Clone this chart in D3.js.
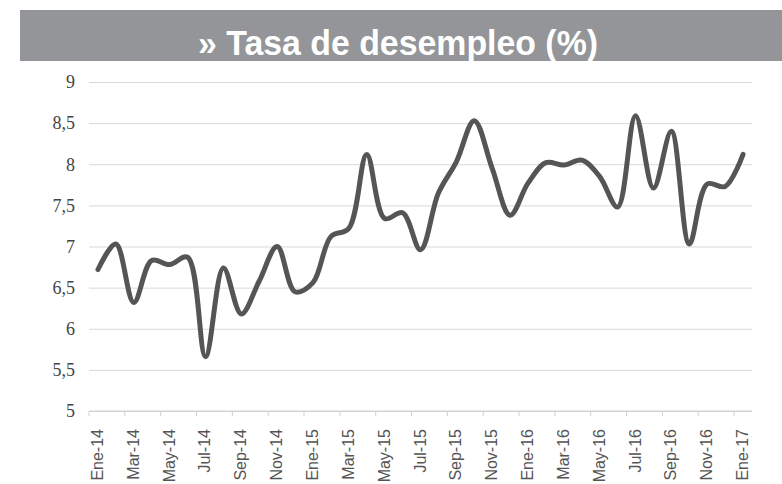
<!DOCTYPE html>
<html>
<head>
<meta charset="utf-8">
<script src="https://cdn.jsdelivr.net/npm/d3@7"></script>
<style>
  body { margin: 0; background: #fff; }
  svg { display: block; }
</style>
</head>
<body>
<svg id="chart"></svg>
<script>
// meses (etiquetas de categoría)
var months = ["Ene-14","Feb-14","Mar-14","Abr-14","May-14","Jun-14","Jul-14","Ago-14","Sep-14","Oct-14","Nov-14","Dic-14",
              "Ene-15","Feb-15","Mar-15","Abr-15","May-15","Jun-15","Jul-15","Ago-15","Sep-15","Oct-15","Nov-15","Dic-15",
              "Ene-16","Feb-16","Mar-16","Abr-16","May-16","Jun-16","Jul-16","Ago-16","Sep-16","Oct-16","Nov-16","Dic-16",
              "Ene-17"];

// tasa de desempleo (%)
var rate = [6.72, 7.03, 6.32, 6.83, 6.78, 6.87, 5.66, 6.74, 6.18, 6.58, 7.00, 6.45,
            6.56, 7.12, 7.22, 8.12, 7.34, 7.41, 6.96, 7.65, 8.03, 8.53, 7.95, 7.38,
            7.77, 8.02, 7.99, 8.05, 7.85, 7.48, 8.59, 7.71, 8.40, 7.03, 7.76, 7.73,
            8.12];

var yTicks = [5, 5.5, 6, 6.5, 7, 7.5, 8, 8.5, 9];
var title = "\u00BB Tasa de desempleo (%)";

/*
	Container
 */
var container = { width: 782, height: 484 };
var plot = { left: 89, right: 752, top: 82, bottom: 411 };

var svg = d3.select('#chart')
	.attr('width', container.width)
	.attr('height', container.height);

/*
	Title bar
 */
svg.append('rect')
	.attr('x', 20).attr('y', 10)
	.attr('width', container.width - 20).attr('height', 51)
	.attr('fill', '#939598');

svg.append('text')
	.attr('x', 398).attr('y', 55)
	.attr('text-anchor', 'middle')
	.attr('fill', '#fff')
	.attr('font-family', 'Liberation Sans, Arial, sans-serif')
	.attr('font-weight', 'bold')
	.attr('font-size', 35)
	.attr('textLength', 400)
	.attr('lengthAdjust', 'spacingAndGlyphs')
	.text(title);

/*
	Scales
 */
var x = d3.scaleBand().domain(months).range([plot.left, plot.right]);
var y = d3.scaleLinear().domain([5, 9]).range([plot.bottom, plot.top]);

/*
	Y axis + gridlines
 */
var yAxis = d3.axisLeft(y)
	.tickValues(yTicks)
	.tickSize(-(plot.right - plot.left))
	.tickPadding(14)
	.tickFormat(function(d){ return String(d).replace('.', ','); });

var gy = svg.append('g')
	.attr('transform', 'translate(' + plot.left + ',0)')
	.call(yAxis);
gy.select('.domain').remove();
gy.selectAll('.tick line').attr('stroke', '#d9d9d9').attr('stroke-width', 1);
gy.selectAll('.tick text')
	.attr('fill', '#444')
	.attr('font-family', 'Liberation Serif, Cambria, serif')
	.attr('font-size', 18);

/*
	X axis
 */
svg.append('line')
	.attr('x1', plot.left).attr('x2', plot.right)
	.attr('y1', plot.bottom).attr('y2', plot.bottom)
	.attr('stroke', '#d0d0d0');

var labelled = months.filter(function(m, i){ return i % 2 === 0; });

svg.append('g').selectAll('line')
	.data(labelled)
	.enter().append('line')
	.attr('x1', function(d){ return x(d); })
	.attr('x2', function(d){ return x(d); })
	.attr('y1', plot.bottom).attr('y2', plot.bottom + 5)
	.attr('stroke', '#d0d0d0');

svg.append('g').selectAll('text')
	.data(labelled)
	.enter().append('text')
	.attr('transform', function(d){
		return 'translate(' + (x(d) + x.bandwidth() / 2 + 5) + ',' + (plot.bottom + 18) + ') rotate(-90)';
	})
	.attr('text-anchor', 'end')
	.attr('fill', '#555')
	.attr('font-family', 'Liberation Sans, Arial, sans-serif')
	.attr('font-size', 16)
	.text(function(d){ return d; });

/*
	Line
 */
var line = d3.line()
	.x(function(d, i){ return x(months[i]) + x.bandwidth() / 2; })
	.y(function(d){ return y(d); })
	.curve(d3.curveCatmullRom);

svg.append('path')
	.datum(rate)
	.attr('d', line)
	.attr('fill', 'none')
	.attr('stroke', '#555')
	.attr('stroke-width', 5)
	.attr('stroke-linejoin', 'round')
	.attr('stroke-linecap', 'round');
</script>
</body>
</html>
